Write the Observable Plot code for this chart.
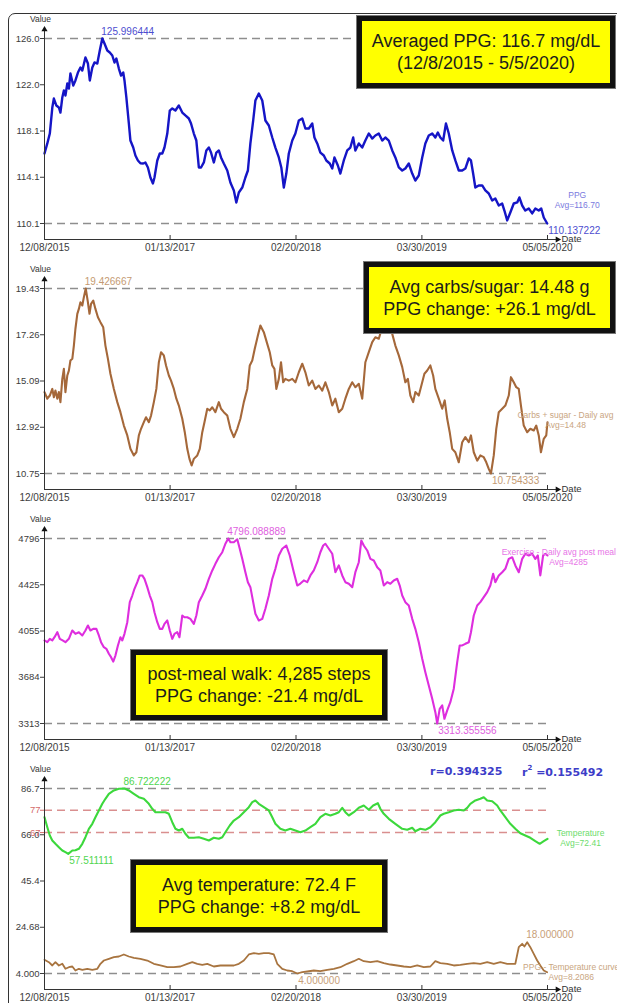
<!DOCTYPE html>
<html>
<head>
<meta charset="utf-8">
<script src="https://cdn.jsdelivr.net/npm/d3@7"></script>
<script src="https://cdn.jsdelivr.net/npm/@observablehq/plot@0.6"></script>
<style>
html, body { margin: 0; padding: 0; background: #fff; width: 617px; height: 1003px; overflow: hidden; }
#wrap { position: relative; width: 617px; height: 1003px; font-family: "Liberation Sans", Arial, Helvetica, sans-serif; }
.frame { position: absolute; left: 8px; top: 13px; width: 640px; height: 1030px; border: 1.5px solid #333; border-radius: 7px; box-sizing: border-box; }
.panel { position: absolute; left: 0; width: 617px; height: 250px; }
.panel svg { overflow: visible; }
.box { position: absolute; background: #ffff00; border: 5px solid #111; box-shadow: 0 0 0 1px #777; box-sizing: border-box;
       display: flex; flex-direction: column; justify-content: center; align-items: center;
       font-size: 18px; line-height: 22px; color: #1c1c1c; text-align: center; white-space: nowrap; }
.rtext { position: absolute; top: 765px; font-family: "DejaVu Sans", Verdana, sans-serif; font-weight: bold; font-size: 11px; color: #3d3dc8; white-space: nowrap; }
.rtext sup { font-size: 7px; position: relative; top: -1px; }
</style>
</head>
<body>
<div id="wrap"><div class="frame"></div></div>
<script>
// ---------------- DATA ----------------
// day = days since 12/08/2015
const startDate = "2015-12-08";
const spanDays = 1610; // through 05/05/2020
const xTickDates = ["2015-12-08", "2017-01-13", "2018-02-20", "2019-03-30", "2020-05-05"];

// PPG (mg/dL) – blue
const ppg = [[0,116.14],[9,117.00],[17,117.85],[25,120.08],[30,120.85],[38,120.25],[46,120.08],[51,119.65],[57,120.94],[62,121.54],
[67,121.11],[73,122.14],[78,121.71],[83,123.00],[92,121.97],[99,122.40],[107,123.08],[115,123.51],[121,123.25],[131,124.37],
[139,123.85],[145,122.40],[153,123.51],[160,123.94],[169,123.85],[177,124.97],[185,125.996444],[192,125.57],[201,124.97],[209,124.80],
[217,124.54],[224,123.94],[230,124.28],[238,123.42],[245,122.82],[252,123.08],[256,122.40],[262,120.94],[270,118.71],[275,117.25],
[284,116.65],[291,115.97],[299,115.54],[307,115.30],[316,115.28],[323,115.37],[331,114.94],[339,114.08],[347,113.57],[352,114.08],
[361,115.54],[369,116.14],[377,116.14],[384,116.65],[393,117.85],[401,119.82],[409,120.00],[419,119.82],[430,120.25],[441,119.65],
[451,119.40],[462,119.14],[469,118.71],[478,117.85],[486,117.25],[494,114.94],[501,114.94],[510,115.37],[518,116.40],[526,116.65],
[533,116.22],[542,115.37],[550,116.22],[558,116.40],[565,115.80],[574,115.28],[585,114.68],[595,113.65],[606,112.97],[614,111.94],
[622,112.80],[633,113.22],[643,114.08],[651,114.68],[659,117.00],[668,118.97],[675,120.68],[686,121.28],[697,120.68],[707,118.97],
[718,118.54],[729,117.51],[739,116.65],[750,115.80],[758,114.94],[766,113.22],[774,114.42],[782,116.14],[793,117.25],[803,117.85],
[814,118.97],[825,119.14],[835,118.28],[846,118.28],[857,118.71],[864,117.51],[873,117.00],[883,116.22],[894,115.97],[902,115.54],
[913,115.28],[921,114.85],[928,115.80],[939,115.11],[947,114.42],[958,115.54],[969,116.40],[979,116.65],[988,117.51],[995,116.40],
[1006,117.00],[1017,116.65],[1027,117.25],[1038,117.85],[1049,117.42],[1059,117.68],[1070,117.85],[1081,117.25],[1091,117.51],[1102,117.25],
[1113,116.40],[1123,115.80],[1134,114.94],[1145,114.68],[1155,114.85],[1166,115.28],[1177,114.42],[1187,113.82],[1198,114.25],[1209,115.80],
[1219,117.00],[1230,117.68],[1241,117.85],[1251,117.51],[1259,117.94],[1267,117.51],[1276,117.25],[1285,118.71],[1294,117.85],[1305,116.40],
[1315,115.54],[1326,114.68],[1337,114.68],[1347,114.85],[1358,115.71],[1365,115.54],[1372,114.42],[1379,113.22],[1390,113.40],[1401,113.40],
[1411,112.97],[1422,112.71],[1433,112.11],[1443,112.28],[1454,111.68],[1465,111.85],[1472,111.25],[1481,110.40],[1491,111.08],[1502,111.85],
[1513,111.94],[1520,112.37],[1529,111.68],[1539,111.25],[1550,111.42],[1561,111.00],[1571,111.42],[1582,111.25],[1590,111.42],[1598,110.65],
[1609,110.137222]];

// Carbs + sugar – daily avg (g) – brown
const carbs = [[0,14.57],[9,14.26],[17,14.41],[25,14.72],[30,14.33],[35,14.64],[41,14.26],[46,14.57],[51,14.10],[57,15.19],
[62,15.66],[67,14.57],[73,15.35],[78,15.58],[83,16.05],[89,16.13],[94,16.75],[99,17.54],[105,18.24],[110,18.47],
[115,18.78],[121,18.63],[126,19.02],[132,19.426667],[139,18.78],[144,18.24],[149,18.71],[156,18.86],[163,18.47],[171,18.08],
[179,17.85],[188,17.61],[195,16.75],[203,16.13],[211,15.43],[222,14.72],[233,14.10],[243,13.63],[254,13.00],[265,12.54],
[275,11.91],[286,11.60],[294,11.75],[302,12.54],[309,12.85],[318,13.16],[325,13.39],[334,13.16],[341,13.47],[350,14.10],
[358,14.72],[366,15.97],[373,16.44],[382,16.29],[389,15.82],[398,15.35],[405,15.11],[414,14.72],[422,14.26],[430,13.94],
[441,13.32],[449,12.69],[457,11.91],[464,11.44],[471,11.13],[478,11.44],[489,11.60],[497,11.91],[505,12.69],[512,13.16],
[521,13.79],[529,13.71],[537,13.86],[547,13.63],[558,14.10],[565,13.79],[574,13.63],[585,13.47],[595,12.85],[606,12.46],
[617,12.85],[627,13.32],[638,14.10],[649,14.72],[657,15.82],[665,16.05],[673,16.60],[683,17.22],[691,17.69],[702,17.38],
[713,16.83],[721,16.44],[729,15.82],[736,15.66],[742,14.72],[750,15.19],[757,15.97],[764,15.03],[771,15.19],[782,15.11],
[793,15.19],[803,15.03],[814,15.50],[825,15.90],[835,15.50],[846,14.88],[857,15.11],[867,14.72],[878,14.88],[889,14.64],
[899,15.03],[910,14.57],[921,13.94],[931,14.26],[942,13.63],[953,13.79],[963,14.26],[974,14.72],[985,15.03],[995,14.80],
[1006,14.96],[1017,14.26],[1027,15.97],[1038,16.44],[1049,16.91],[1059,17.14],[1070,17.07],[1081,17.61],[1097,17.85],[1113,17.30],
[1123,16.75],[1134,16.29],[1145,15.74],[1155,15.03],[1163,15.19],[1171,14.41],[1180,14.10],[1187,14.57],[1198,14.41],[1209,15.03],
[1216,15.43],[1225,15.58],[1235,15.82],[1244,15.35],[1251,14.72],[1262,14.26],[1273,13.79],[1281,14.18],[1289,13.32],[1297,12.69],
[1305,11.91],[1315,11.75],[1326,11.28],[1337,12.22],[1347,12.46],[1358,12.22],[1365,12.54],[1374,11.75],[1385,11.36],[1395,11.60],
[1406,11.52],[1414,11.28],[1422,10.97],[1429,10.754333],[1438,11.60],[1446,12.85],[1454,13.63],[1465,13.79],[1475,13.94],[1486,14.41],
[1493,15.27],[1502,15.03],[1510,14.80],[1518,14.72],[1525,13.94],[1534,13.00],[1545,12.69],[1555,12.85],[1566,12.77],[1574,13.00],
[1582,12.54],[1589,11.75],[1598,12.38],[1606,12.54],[1610,13.16]];

// Exercise – daily avg post meal walk (steps) – magenta
const steps = [[0,3979],[9,3965],[17,3992],[25,3979],[32,4005],[41,4045],[49,3992],[58,3979],[67,3965],[78,3992],
[89,4059],[99,4032],[110,4045],[121,4019],[131,4059],[139,4099],[147,4059],[156,4072],[166,4072],[174,4019],
[181,3965],[190,3925],[198,3912],[206,3872],[213,3845],[220,3810],[227,3858],[235,3939],[243,4005],[249,3979],
[256,4032],[265,4125],[273,4286],[281,4339],[288,4393],[297,4446],[305,4500],[313,4500],[320,4473],[329,4406],
[337,4339],[345,4286],[352,4205],[361,4125],[369,4072],[377,4072],[384,4112],[393,4139],[401,4059],[409,3992],
[416,4032],[425,4045],[432,4005],[441,4179],[448,4165],[457,4165],[467,4152],[478,4112],[486,4179],[494,4286],
[505,4339],[515,4393],[526,4473],[537,4540],[547,4593],[558,4646],[569,4686],[579,4754],[588,4796.088889],[595,4766],
[606,4766],[617,4790],[625,4714],[633,4633],[643,4526],[651,4446],[659,4406],[668,4286],[675,4193],[686,4139],
[697,4152],[707,4233],[718,4339],[729,4473],[739,4553],[750,4660],[761,4714],[774,4740],[785,4660],[798,4526],
[809,4419],[819,4435],[830,4460],[841,4446],[851,4500],[862,4540],[873,4606],[883,4686],[892,4740],[899,4754],
[910,4714],[921,4674],[931,4526],[942,4580],[953,4500],[963,4446],[974,4433],[985,4406],[995,4526],[1006,4606],
[1014,4780],[1022,4740],[1033,4700],[1043,4633],[1054,4620],[1065,4566],[1075,4540],[1086,4419],[1097,4446],[1107,4433],
[1118,4460],[1129,4473],[1137,4419],[1145,4339],[1155,4286],[1166,4259],[1177,4152],[1187,4072],[1198,3965],[1209,3832],
[1219,3725],[1230,3618],[1241,3511],[1251,3404],[1257,3313.355556],[1265,3431],[1273,3458],[1280,3351],[1289,3418],[1299,3484],
[1310,3592],[1321,3805],[1329,3939],[1337,3939],[1347,3952],[1358,3965],[1365,4045],[1374,4179],[1385,4259],[1395,4286],
[1406,4326],[1417,4366],[1427,4419],[1436,4513],[1443,4446],[1454,4500],[1465,4526],[1475,4553],[1486,4633],[1497,4646],
[1507,4580],[1518,4526],[1529,4633],[1539,4674],[1550,4660],[1561,4674],[1571,4633],[1579,4660],[1587,4500],[1596,4660],
[1603,4674],[1610,4660]];

// Temperature (F) – green
const temperature = [[0,73.89],[9,69.42],[17,65.71],[25,63.47],[35,62.00],[46,60.47],[57,59.00],[67,58.24],[76,57.511111],[89,59.00],
[99,59.10],[110,59.76],[121,62.00],[131,64.95],[142,68.70],[153,70.94],[163,73.89],[174,76.89],[185,79.88],[195,82.12],
[206,84.35],[222,85.83],[238,86.59],[256,86.722222],[270,85.83],[286,84.35],[302,82.83],[318,82.12],[334,79.88],[345,77.65],
[355,76.12],[371,76.12],[387,76.12],[398,75.41],[409,71.65],[419,68.70],[430,67.94],[441,68.70],[451,66.47],[462,64.68],
[478,64.68],[494,64.95],[510,64.23],[526,63.47],[542,64.68],[558,64.23],[569,64.95],[579,67.18],[593,70.18],[606,72.41],
[622,73.89],[638,76.12],[654,78.36],[665,80.60],[675,81.36],[686,79.88],[702,78.36],[718,76.89],[729,73.89],[739,70.94],
[755,68.70],[771,67.94],[787,68.70],[803,67.94],[819,67.18],[835,67.94],[851,69.42],[867,70.94],[883,73.89],[899,75.41],
[915,74.65],[931,75.41],[942,76.12],[953,78.09],[963,76.12],[974,74.65],[990,76.12],[1006,78.09],[1022,79.12],[1038,77.20],
[1052,79.12],[1067,80.15],[1075,77.65],[1086,75.41],[1102,73.17],[1123,70.94],[1145,68.70],[1161,68.25],[1177,69.15],[1187,67.63],
[1203,68.70],[1219,68.25],[1235,69.42],[1251,71.65],[1267,74.65],[1278,75.41],[1294,76.12],[1310,76.89],[1326,77.20],[1342,76.89],
[1353,78.09],[1363,79.88],[1379,81.36],[1395,82.12],[1406,82.83],[1417,81.36],[1433,81.04],[1449,79.12],[1459,76.89],[1475,73.89],
[1491,70.94],[1507,68.70],[1523,66.73],[1539,65.71],[1555,64.68],[1571,63.16],[1585,62.00],[1598,63.16],[1610,64.23]];

// PPG - Temperature curve – light brown
const ppgTempCurve = [[0,10.13],[14,9.05],[25,7.58],[35,9.05],[46,7.58],[57,8.34],[67,6.10],[78,6.82],[89,7.13],[99,5.34],
[110,6.10],[121,5.65],[137,6.10],[153,5.65],[169,6.10],[179,8.34],[190,9.81],[206,10.57],[222,11.29],[238,11.60],
[254,12.50],[270,11.60],[286,11.02],[307,10.57],[329,9.81],[350,8.34],[371,7.58],[393,6.82],[414,6.82],[435,7.13],
[457,8.34],[473,9.05],[489,8.34],[505,7.89],[521,8.34],[542,7.13],[563,7.58],[585,7.58],[606,7.58],[622,8.34],
[638,9.81],[654,12.50],[670,13.08],[686,12.81],[702,13.08],[718,13.08],[734,12.50],[745,8.34],[761,6.10],[777,5.34],
[793,5.03],[809,4.0],[825,4.58],[841,4.89],[862,5.34],[883,5.03],[905,5.65],[926,6.10],[947,6.82],[969,8.34],
[990,9.50],[1006,10.57],[1022,9.50],[1043,9.05],[1065,9.50],[1086,8.61],[1107,8.02],[1129,7.58],[1150,7.13],[1171,6.82],
[1193,7.58],[1214,6.82],[1235,7.13],[1251,9.50],[1267,8.61],[1289,8.34],[1310,7.58],[1331,7.89],[1353,8.34],[1374,8.61],
[1395,8.34],[1417,9.05],[1438,8.34],[1459,9.05],[1481,8.34],[1507,8.34],[1518,15.76],[1529,17.28],[1536,16.07],[1545,18.0],
[1555,15.76],[1566,12.81],[1577,9.81],[1587,7.58],[1598,5.34],[1609,4.58]];

// Y tick labels as printed
const ppgTickLabels   = ["110.1", "114.1", "118.1", "122.0", "126.0"];
const carbsTickLabels = ["10.75", "12.92", "15.09", "17.26", "19.43"];
const stepsTickLabels = ["3313", "3684", "4055", "4425", "4796"];
const tempTickLabels  = ["4.000", "24.68", "45.4", "66.0", "86.7"];
const comfortLines = [77, 67];

// Series legends
const seriesNames = ["PPG", "Carbs + sugar - Daily avg", "Exercise - Daily avg post meal walk", "Temperature", "PPG - Temperature curve"];
const seriesAvgs  = ["Avg=116.70", "Avg=14.48", "Avg=4285", "Avg=72.41", "Avg=8.2086"];

// Correlation
const rValue = "0.394325";
const r2Value = "0.155492";

// Yellow annotation boxes
const boxTexts = [
  ["Averaged PPG: 116.7 mg/dL", "(12/8/2015 - 5/5/2020)"],
  ["Avg carbs/sugar: 14.48 g", "PPG change: +26.1 mg/dL"],
  ["post-meal walk: 4,285 steps", "PPG change: -21.4 mg/dL"],
  ["Avg temperature: 72.4 F", "PPG change: +8.2 mg/dL"]
];

// ---------------- CHART ----------------
const start = new Date(startDate + "T00:00:00Z");
const end = d3.utcDay.offset(start, spanDays);
const xTicks = xTickDates.map(s => new Date(s + "T00:00:00Z"));
const toRows = pairs => pairs.map(([d, v]) => ({date: d3.utcDay.offset(start, d), value: v}));
const fmt6 = d3.format(".6f");
const FONT = "'Liberation Sans', Arial, Helvetica, sans-serif";
const AXIS = "#333";

function makePanel({series, tickLabels, redLines = []}) {
  const all = series.flatMap(s => s.pairs.map(p => p[1]));
  const yMin = d3.min(all), yMax = d3.max(all);
  const yTicks = [0, 1, 2, 3, 4].map(k => yMin + k * (yMax - yMin) / 4);
  const marks = [
    Plot.ruleY([yMin, yMax], {x1: start, x2: end, stroke: "#8e8e8e", strokeWidth: 1.5, strokeDasharray: "8,5"})
  ];
  if (redLines.length) {
    marks.push(Plot.ruleY(redLines, {x1: start, x2: end, stroke: "#d98f8f", strokeWidth: 1.5, strokeDasharray: "8,5"}));
  }
  for (const s of series) {
    const data = toRows(s.pairs);
    const maxRow = data.reduce((a, b) => b.value > a.value ? b : a);
    const minRow = data.reduce((a, b) => b.value < a.value ? b : a);
    const last = data[data.length - 1];
    marks.push(Plot.line(data, {x: "date", y: "value", stroke: s.color, strokeWidth: s.width, strokeLinejoin: "round"}));
    marks.push(Plot.text([maxRow], {x: "date", y: "value", text: d => fmt6(d.value), textAnchor: "start", dx: -1, dy: -7, fill: s.labelColor, fontSize: 10}));
    marks.push(Plot.text([minRow], {x: "date", y: "value", text: d => fmt6(d.value), textAnchor: "start", dx: 1, dy: 7, fill: s.labelColor, fontSize: 10}));
    marks.push(Plot.text([last], {x: "date", y: "value", text: () => s.name, dx: s.nameDx, dy: s.nameDy, fill: s.legendColor, fontSize: 8.5}));
    marks.push(Plot.text([last], {x: "date", y: "value", text: () => s.avg, dx: s.nameDx, dy: s.nameDy + 10, fill: s.legendColor, fontSize: 8.5}));
  }
  marks.push(
    Plot.axisY(yTicks, {anchor: "left", tickFormat: d => tickLabels[yTicks.indexOf(d)], tickSize: 4, tickPadding: 1, fontSize: 9.5, color: "#3c3c3c", label: null}),
    Plot.axisX(xTicks, {anchor: "bottom", tickFormat: d3.utcFormat("%m/%d/%Y"), tickSize: 0, tickPadding: 4, fontSize: 10, color: "#3c3c3c", label: null}),
    Plot.ruleX(xTicks, {insetTop: 207, stroke: AXIS}),
    Plot.frame({anchor: "left", stroke: AXIS}),
    Plot.frame({anchor: "bottom", stroke: AXIS}),
    Plot.dot([0], {frameAnchor: "top-left", symbol: "triangle", r: 2.3, fill: "#111", stroke: "none", dy: 1}),
    Plot.dot([0], {frameAnchor: "bottom-right", symbol: "triangle", rotate: 90, r: 2.3, fill: "#111", stroke: "none", dx: -1}),
    Plot.text(["Value"], {frameAnchor: "top-left", textAnchor: "middle", lineAnchor: "middle", dx: -4, dy: -9, fontSize: 8.5, fill: "#333"}),
    Plot.text(["Date"], {frameAnchor: "bottom-right", textAnchor: "start", lineAnchor: "middle", dx: 3, dy: -1, fontSize: 9.5, fill: "#333"})
  );
  if (redLines.length) {
    marks.push(Plot.axisY(redLines, {anchor: "left", tickFormat: d => String(d), tickSize: 4, tickPadding: 0, fontSize: 9.5, color: "#d46a6a", label: null}));
  }
  return Plot.plot({
    width: 617, height: 250,
    marginLeft: 44, marginRight: 59, marginTop: 28, marginBottom: 11,
    x: {type: "utc", domain: [start, end], range: [44, 547]},
    y: {domain: [yMin, yMax], range: [223, 38]},
    style: {fontFamily: FONT, background: "transparent", overflow: "visible"},
    marks
  });
}

const panels = [
  {series: [{pairs: ppg, color: "#1515c6", width: 2.4, labelColor: "#4d4dcf", legendColor: "#7a7ade",
             name: seriesNames[0], avg: seriesAvgs[0], nameDx: 30, nameDy: -28}],
   tickLabels: ppgTickLabels},
  {series: [{pairs: carbs, color: "#a5683a", width: 2.1, labelColor: "#c49a72", legendColor: "#c9a582",
             name: seriesNames[1], avg: seriesAvgs[1], nameDx: 18, nameDy: -7}],
   tickLabels: carbsTickLabels},
  {series: [{pairs: steps, color: "#de2ede", width: 2.1, labelColor: "#e05ee0", legendColor: "#e774e7",
             name: seriesNames[2], avg: seriesAvgs[2], nameDx: 21, nameDy: -3}],
   tickLabels: stepsTickLabels},
  {series: [{pairs: temperature, color: "#3cd83c", width: 2.1, labelColor: "#4fd64f", legendColor: "#6bdc6b",
             name: seriesNames[3], avg: seriesAvgs[3], nameDx: 33, nameDy: -6},
            {pairs: ppgTempCurve, color: "#a8743f", width: 1.8, labelColor: "#c8a079", legendColor: "#c9a67f",
             name: seriesNames[4], avg: seriesAvgs[4], nameDx: 24, nameDy: -5}],
   tickLabels: tempTickLabels, redLines: comfortLines}
];

const wrap = document.getElementById("wrap");
panels.forEach((cfg, i) => {
  const div = document.createElement("div");
  div.className = "panel";
  div.style.top = (i * 250) + "px";
  div.appendChild(makePanel(cfg));
  wrap.appendChild(div);
});

// correlation text
const r1 = document.createElement("div");
r1.className = "rtext"; r1.style.left = "430px";
r1.textContent = "r=" + rValue;
wrap.appendChild(r1);
const r2 = document.createElement("div");
r2.className = "rtext"; r2.style.left = "522px";
r2.innerHTML = "r<sup>2</sup> =" + r2Value;
wrap.appendChild(r2);

// yellow boxes
const boxPos = [
  {left: 357, top: 16, width: 258, height: 72},
  {left: 364, top: 262, width: 251, height: 71},
  {left: 131, top: 650, width: 256, height: 70},
  {left: 131, top: 860, width: 256, height: 72}
];
boxTexts.forEach((lines, i) => {
  const b = document.createElement("div");
  b.className = "box";
  const p = boxPos[i];
  Object.assign(b.style, {left: p.left + "px", top: p.top + "px", width: p.width + "px", height: p.height + "px"});
  lines.forEach(t => { const s = document.createElement("div"); s.textContent = t; b.appendChild(s); });
  wrap.appendChild(b);
});
</script>
</body>
</html>
